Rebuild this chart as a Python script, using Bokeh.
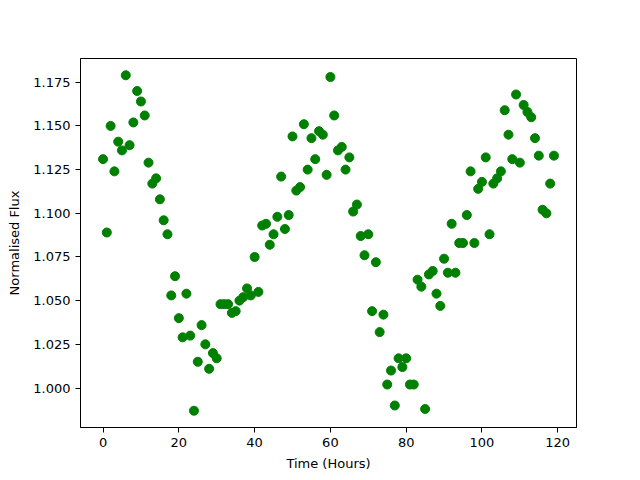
from bokeh.plotting import figure
from bokeh.models import Range1d, FixedTicker, NumeralTickFormatter
from bokeh.embed import file_html
from bokeh.resources import INLINE

time_hours = list(range(120))
flux = [
    1.131, 1.089, 1.150, 1.124, 1.141, 1.136, 1.179, 1.139, 1.152, 1.170,
    1.164, 1.156, 1.129, 1.117, 1.120, 1.108, 1.096, 1.088, 1.053, 1.064,
    1.040, 1.029, 1.054, 1.030, 0.987, 1.015, 1.036, 1.025, 1.011, 1.020,
    1.017, 1.048, 1.048, 1.048, 1.043, 1.044, 1.050, 1.052, 1.057, 1.053,
    1.075, 1.055, 1.093, 1.094, 1.082, 1.088, 1.098, 1.121, 1.091, 1.099,
    1.144, 1.113, 1.115, 1.151, 1.125, 1.143, 1.131, 1.147, 1.145, 1.122,
    1.178, 1.156, 1.136, 1.138, 1.125, 1.132, 1.101, 1.105, 1.087, 1.076,
    1.088, 1.044, 1.072, 1.032, 1.042, 1.002, 1.010, 0.990, 1.017, 1.012,
    1.017, 1.002, 1.002, 1.062, 1.058, 0.988, 1.065, 1.067, 1.054, 1.047,
    1.074, 1.066, 1.094, 1.066, 1.083, 1.083, 1.099, 1.124, 1.083, 1.114,
    1.118, 1.132, 1.088, 1.117, 1.120, 1.124, 1.159, 1.145, 1.131, 1.168,
    1.129, 1.162, 1.158, 1.155, 1.143, 1.133, 1.102, 1.100, 1.117, 1.133,
]
x_ticks = [0, 20, 40, 60, 80, 100, 120]
y_ticks = [1.000, 1.025, 1.050, 1.075, 1.100, 1.125, 1.150, 1.175]

p = figure(frame_width=496, frame_height=369, output_backend="svg", toolbar_location=None,
           x_range=Range1d(-5.95, 124.95), y_range=Range1d(0.9774, 1.1886),
           min_border_left=80, min_border_right=44, min_border_top=58, min_border_bottom=37)
p.scatter(time_hours, flux, size=9, color="green")

p.xgrid.visible = False
p.ygrid.visible = False
p.outline_line_color = "black"
p.outline_line_width = 1

p.xaxis.ticker = FixedTicker(ticks=x_ticks)
p.yaxis.ticker = FixedTicker(ticks=y_ticks)
p.yaxis.formatter = NumeralTickFormatter(format="0.000")
p.xaxis.axis_label = "Time (Hours)"
p.yaxis.axis_label = "Normalised Flux"
for ax in (p.xaxis, p.yaxis):
    ax.major_label_text_font = "DejaVu Sans"
    ax.major_label_text_font_size = "13px"
    ax.axis_label_text_font = "DejaVu Sans"
    ax.axis_label_text_font_size = "13px"
    ax.axis_label_text_font_style = "normal"
    ax.major_tick_out = 5
    ax.major_tick_in = 0
    ax.minor_tick_out = 0
    ax.minor_tick_in = 0
    ax.axis_line_color = "black"
    ax.major_tick_line_color = "black"
    ax.major_label_text_color = "black"
    ax.axis_label_text_color = "black"
p.xaxis.axis_label_standoff = 6
p.yaxis.axis_label_standoff = 8

open("out.html", "w").write(file_html(p, INLINE))
